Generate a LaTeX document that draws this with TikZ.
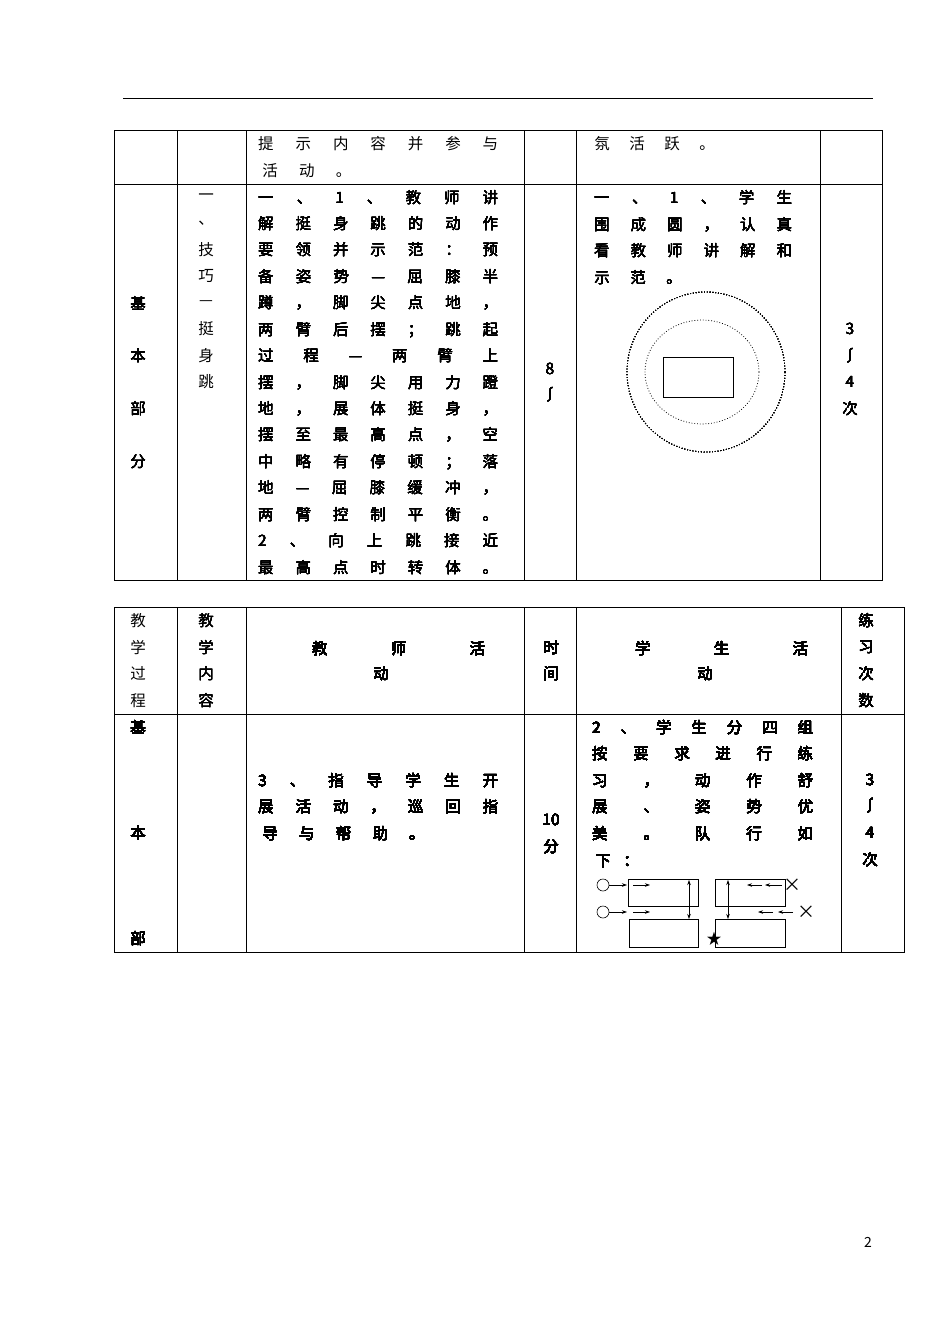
\documentclass[tikz,border=0pt]{standalone}
\usepackage{fontspec}
\setmainfont{Noto Sans CJK SC}
\usetikzlibrary{arrows.meta,shapes.geometric}
\makeatletter
\newif\iffirstc
\newcommand\spr[1]{\firstctrue\@tfor\spc:=#1\do{\iffirstc\firstcfalse\else\hfill\fi\spc}}
\newcommand\pit[2]{\@tfor\spc:=#2\do{\makebox[#1pt]{\spc}}}
\makeatother
% spread line: left x, center y, width, chars
\newcommand\LL[4]{\node[anchor=base west,inner sep=0] at (#1,#2+6) {\makebox[#3pt]{\spr{#4}}};}
\newcommand\LLx[4]{\node[anchor=base west,inner sep=0] at (#1,#2+6) {\makebox[#3pt]{\expandafter\spr\expandafter{#4}}};}
% pitched line: first char center x, center y, pitch, chars
\newcommand\LP[4]{\node[anchor=base west,inner sep=0] at (#1-#3/2,#2+6) {\pit{#3}{#4}};}
\newcommand\CC[3]{\node[inner sep=0] at (#1,#2) {#3};}
\begin{document}
\begin{tikzpicture}[x=1pt,y=-1pt,font=\fontsize{15.5}{18}\selectfont,
  tb/.style={line width=0.8pt},
  dot/.style={dotted,line width=0.8pt},
  ar/.style={-{Stealth[length=5pt,width=3.5pt]},line width=0.6pt}]
\useasboundingbox (0,0) rectangle (950,1342);
\draw[line width=1pt] (123,98) -- (873,98);
% ---- table 1
\draw[tb] (114,130) rectangle (882,580);
\draw[tb] (114,184) -- (882,184);
\foreach \x in {177,246,524,576,820} \draw[tb] (\x,130) -- (\x,580);
\LL{258}{143}{240}{提示内容并参与}
\LP{270}{170}{36.7}{活动。}
\LP{602}{143}{35}{氛活跃。}
\foreach \c [count=\i from 0] in {一,、,技,巧,—,挺,身,跳} \CC{206}{197+26.4*\i}{\c}
\CC{138}{303}{基}\CC{138}{356}{本}\CC{138}{409}{部}\CC{138}{462}{分}
\foreach \t [count=\i from 0] in {一、1、教师讲,解挺身跳的动作,要领并示范：预,备姿势—屈膝半,蹲，脚尖点地，,两臂后摆；跳起,过程—两臂上,摆，脚尖用力蹬,地，展体挺身，,摆至最高点，空,中略有停顿；落,地—屈膝缓冲，,两臂控制平衡。,2、向上跳接近,最高点时转体。}
  {\LLx{258}{197+26.43*\i}{240}{\t}}
\CC{550}{369}{8}\CC{550}{395}{∫}
\LL{594}{197}{198}{一、1、学生}
\LL{594}{224}{198}{围成圆，认真}
\LL{594}{250}{198}{看教师讲解和}
\LP{602}{277}{36}{示范。}
\CC{850}{329}{3}\CC{850}{356}{∫}\CC{850}{382}{4}\CC{850}{409}{次}
\node[draw,dot,ellipse,minimum width=158,minimum height=160,inner sep=0] (outer) at (706,372) {};
\node[draw,dot,ellipse,minimum width=114,minimum height=104,inner sep=0] (inner) at (702,372) {};
\node[draw,line width=1pt,minimum width=70,minimum height=40,inner sep=0] (mat) at (698,377) {};
% ---- table 2
\draw[tb] (114,607) rectangle (904,952);
\draw[tb] (114,714) -- (904,714);
\foreach \x in {177,246,524,576,841} \draw[tb] (\x,607) -- (\x,952);
\foreach \c [count=\i from 0] in {教,学,过,程} \CC{138}{621+26.4*\i}{\c}
\foreach \c [count=\i from 0] in {教,学,内,容} \CC{206}{621+26.4*\i}{\c}
\foreach \c [count=\i from 0] in {练,习,次,数} \CC{866}{621+26.4*\i}{\c}
\LL{312}{648}{173}{教师活}\CC{381}{674}{动}
\CC{551}{648}{时}\CC{551}{674}{间}
\LL{635}{648}{173}{学生活}\CC{705}{674}{动}
\CC{138}{727}{基}\CC{138}{833}{本}\CC{138}{939}{部}
\LL{258}{780}{240}{3、指导学生开}
\LL{258}{806}{240}{展活动，巡回指}
\LP{270}{833}{36.7}{导与帮助。}
\CC{551}{820}{10}\CC{551}{847}{分}
\LL{592}{727}{221}{2、学生分四组}
\LL{592}{753}{221}{按要求进行练}
\LL{592}{780}{221}{习，动作舒}
\LL{592}{806}{221}{展、姿势优}
\LL{592}{833}{221}{美。队行如}
\LP{603}{860}{28}{下：}
\CC{870}{780}{3}\CC{870}{806}{∫}\CC{870}{833}{4}\CC{870}{860}{次}
% formation diagram
\node[draw,line width=1pt,minimum width=70,minimum height=27,inner sep=0] (r1) at (663,892.5) {};
\node[draw,line width=1pt,minimum width=69,minimum height=28,inner sep=0] (r2) at (663.5,933) {};
\node[draw,line width=1pt,minimum width=70,minimum height=27,inner sep=0] (r3) at (750,892.5) {};
\node[draw,line width=1pt,minimum width=70,minimum height=28,inner sep=0] (r4) at (750,933) {};
\node[draw,circle,minimum size=12,inner sep=0,line width=0.6pt] (c1) at (603,885) {};
\node[draw,circle,minimum size=12,inner sep=0,line width=0.6pt] (c2) at (603,912) {};
\node[inner sep=0,font=\fontsize{18}{18}\selectfont] (x1) at (792,885) {×};
\node[inner sep=0,font=\fontsize{18}{18}\selectfont] (x2) at (806,912) {×};
\node[inner sep=0,font=\fontsize{15}{15}\selectfont] (st) at (714,939) {★};
\coordinate (a1) at (627,885); \coordinate (a2) at (633,885); \coordinate (a3) at (650,885);
\coordinate (b1) at (627,912); \coordinate (b2) at (633,912); \coordinate (b3) at (650,912);
\draw[ar] (c1) -- (a1); \draw[ar] (a2) -- (a3);
\draw[ar] (c2) -- (b1); \draw[ar] (b2) -- (b3);
\coordinate (d1) at (765,885); \coordinate (d2) at (762,885); \coordinate (d3) at (747,885);
\coordinate (e1) at (778,912); \coordinate (e2) at (773,912); \coordinate (e3) at (758,912);
\draw[ar] (782,885) -- (d1); \draw[ar] (d2) -- (d3);
\draw[ar] (793,912) -- (e1); \draw[ar] (e2) -- (e3);
\draw[ar] (689,900) -- (689,880); \draw[ar] (689,900) -- (689,919);
\draw[ar] (728,900) -- (728,880); \draw[ar] (728,900) -- (728,919);
\node[font=\fontsize{14}{14}\selectfont] (pg) at (868,1242) {2};
\end{tikzpicture}
\end{document}
